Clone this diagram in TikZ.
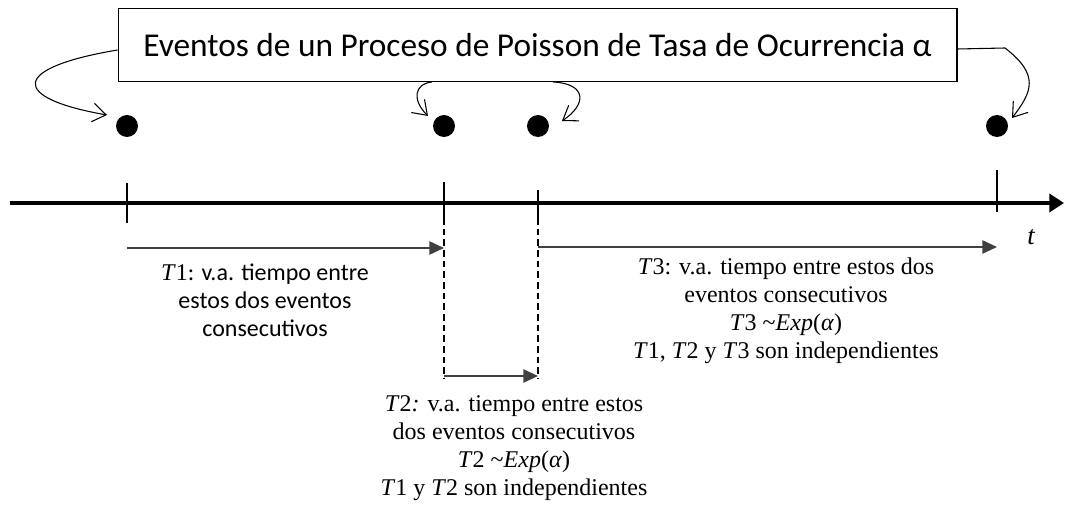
\documentclass[tikz,border=0pt]{standalone}
\usepackage{fontspec}
\setmainfont{Liberation Serif}
\newfontfamily\calib{Carlito}
\usetikzlibrary{arrows.meta}
\definecolor{arrgray}{HTML}{404040}
\newcommand\mT[1]{{\rmfamily\textit{T}#1}}
\begin{document}
\begin{tikzpicture}[x=0.75pt,y=-0.75pt,
  dot/.style={circle,fill=black,inner sep=0pt,minimum size=16.5pt},
  tickmark/.style={line width=1.1pt},
  dashline/.style={line width=1.1pt,dash pattern=on 5pt off 3pt},
  garrow/.style={draw=arrgray,line width=1.2pt,-{Triangle[length=11pt,width=10pt]}},
  curvearrow/.style={line width=0.8pt,-{Straight Barb[length=10pt,width=14pt]}},
  sanstext/.style={font=\calib\fontsize{18}{21}\selectfont,align=center,inner sep=0pt},
  seriftext/.style={font=\fontsize{18}{21}\selectfont,align=center,inner sep=0pt}
]
\useasboundingbox (0,0) rectangle (1065,513);
% title box
\node[draw,line width=1pt,minimum width=629pt,minimum height=54.4pt,inner sep=0pt,
      font=\calib\fontsize{25}{29}\selectfont] (box) at (537.5,45)
      {Eventos de un Proceso de Poisson de Tasa de Ocurrencia α};
% events
\node[dot] (d1) at (127,126) {};
\node[dot] (d2) at (444,126) {};
\node[dot] (d3) at (538,126) {};
\node[dot] (d4) at (997,126) {};
% arrow ends near the dots
\coordinate (e1) at (107,115);
\coordinate (e2) at (428,116);
\coordinate (e3) at (562,121);
\coordinate (e4) at (1012,118);
\coordinate (k4) at (1005,48);
% curved arrows
\draw[curvearrow] ([yshift=-3.75pt]box.west) .. controls (10,68) and (10,98) .. (e1);
\draw[curvearrow] (box.south -| 432,0) .. controls (414,84) and (412,100) .. (e2);
\draw[curvearrow] (box.south -| 553,0) .. controls (588,84) and (586,105) .. (e3);
\draw[curvearrow] ([yshift=-3pt]box.east) -- (k4) .. controls (1040,75) and (1032,92) .. (e4);
% time axis
\coordinate (a0) at (10,203);
\coordinate (a1) at (1064,203);
\draw[line width=3pt,-{Triangle[length=11pt,width=13.5pt]}] (a0) -- (a1);
\node[font=\fontsize{20}{24}\selectfont\itshape] (tlab) at (1031,237) {t};
% ticks
\draw[tickmark] (d1 |- 0,183) -- (d1 |- 0,223);
\draw[tickmark] (d2 |- 0,182) -- (d2 |- 0,218);
\draw[tickmark] (d3 |- 0,190) -- (d3 |- 0,218);
\draw[tickmark] (d4 |- 0,170) -- (d4 |- 0,212);
% dashed guides
\draw[dashline] (d2 |- 0,218) -- (d2 |- 0,379);
\draw[dashline] (d3 |- 0,218) -- (d3 |- 0,379);
% interval arrows
\draw[garrow] (d1 |- 0,248) -- (d2 |- 0,248);
\draw[garrow] (d2 |- 0,376) -- (d3 |- 0,376);
\draw[garrow] (d3 |- 0,247) -- (d4 |- 0,247);
% texts
\node[sanstext] (t1txt) at (265,300)
  {\mT{1}: v.a. tiempo entre\\estos dos eventos\\consecutivos};
\node[seriftext] (t2txt) at (514,448)
  {\textit{T}2\textit{:} v.a. tiempo entre estos\\dos eventos consecutivos\\
   \textit{T}2 \textasciitilde\textit{Exp}(\textit{α})\\
   \textit{T}1 y \textit{T}2 son independientes};
\node[seriftext] (t3txt) at (786,311)
  {\textit{T}3: v.a. tiempo entre estos dos\\eventos consecutivos\\
   \textit{T}3 \textasciitilde\textit{Exp}(\textit{α})\\
   \textit{T}1, \textit{T}2 y \textit{T}3 son independientes};
\end{tikzpicture}
\end{document}
